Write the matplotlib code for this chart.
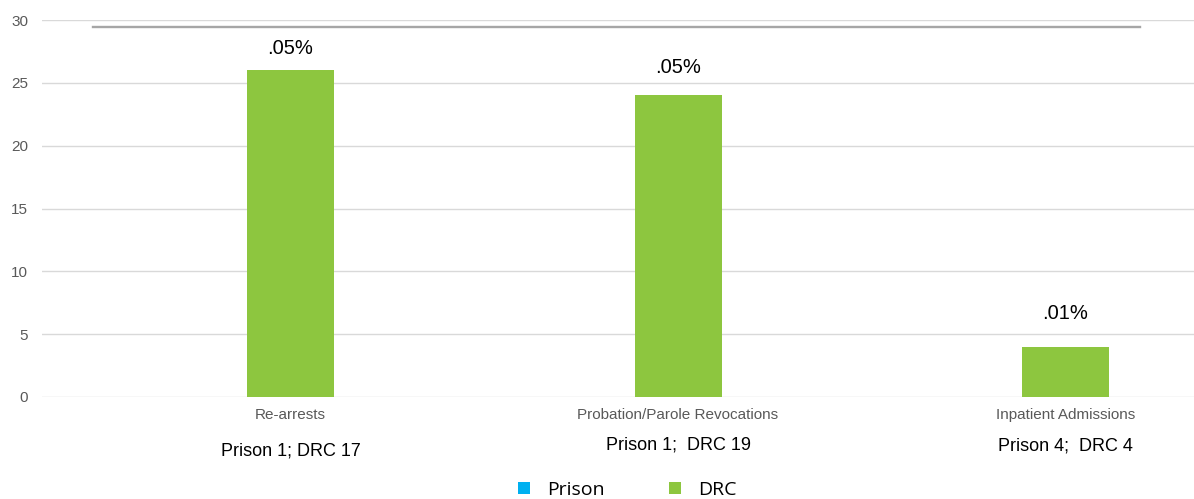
import matplotlib
matplotlib.use("Agg")
import matplotlib.pyplot as plt
from matplotlib.lines import Line2D
from matplotlib.transforms import blended_transform_factory
import numpy as np

# ---- data ----
categories = ["Re-arrests", "Probation/Parole Revocations", "Inpatient Admissions"]
prison_values = [1, 1, 4]
drc_values = [26, 24, 4]
pct_labels = [".05%", ".05%", ".01%"]
count_labels = ["Prison 1; DRC 17", "Prison 1;  DRC 19", "Prison 4;  DRC 4"]
y_ticks = [0, 5, 10, 15, 20, 25, 30]

# ---- styling ----
W, H = 1194, 499
GREEN = "#8DC63F"
BLUE = "#00B0F0"
GRID = "#D9D9D9"
TXT_GRAY = "#595959"
plt.rcParams["font.family"] = ["Liberation Sans", "DejaVu Sans"]

fig = plt.figure(figsize=(W / 100, H / 100), dpi=100)
ax_left, ax_right = 42 / W, 1.0
ax_bottom, ax_top = 1 - 397 / H, 1 - 20 / H
ax = fig.add_axes([ax_left, ax_bottom, ax_right - ax_left, ax_top - ax_bottom])

x = np.arange(len(categories))
step_px = 387.5
bar_w = 87 / step_px
ax.bar(x, prison_values, width=bar_w, color=BLUE, zorder=2)
ax.bar(x, drc_values, width=bar_w, color=GREEN, zorder=3)

ax.set_xlim(-(290.5 - 42) / step_px, (W - 290.5) / step_px)
ax.set_ylim(0, 30)
ax.set_yticks(y_ticks)
ax.set_xticks([])
ax.grid(axis="y", color=GRID, linewidth=1.0, zorder=0)
ax.set_axisbelow(True)
for s in ax.spines.values():
    s.set_visible(False)
ax.tick_params(axis="y", length=0, pad=10, labelsize=11, labelcolor=TXT_GRAY)

# percentage labels above bars (offsets in pixels)
pct_offsets = [22, 28, 33]
for xi, v, lab, off in zip(x, drc_values, pct_labels, pct_offsets):
    ax.annotate(lab, (xi, v), xytext=(0, off), textcoords="offset pixels",
                ha="center", va="center", fontsize=14.5, color="black")

# category labels and count labels
tr = blended_transform_factory(ax.transData, fig.transFigure)
count_y_px = [451, 445, 446]
for xi, cat, cl, cy in zip(x, categories, count_labels, count_y_px):
    ax.text(xi, 1 - 415 / H, cat, transform=tr, ha="center", va="center",
            fontsize=11, color=TXT_GRAY)
    ax.text(xi, 1 - cy / H, cl, transform=tr, ha="center", va="center",
            fontsize=13, color="black")

# decorative gray line near top
fig.add_artist(Line2D([93 / W, 1140 / W], [1 - 26.7 / H, 1 - 26.7 / H],
                      transform=fig.transFigure, color="#A6A6A6", linewidth=1.7))

# legend
handles = [Line2D([], [], marker="s", linestyle="none", markersize=9,
                  markerfacecolor=BLUE, markeredgewidth=0, label="Prison"),
           Line2D([], [], marker="s", linestyle="none", markersize=9,
                  markerfacecolor=GREEN, markeredgewidth=0, label="DRC")]
fig.legend(handles=handles, loc="center", bbox_to_anchor=(627 / W, 1 - 490 / H),
           ncol=2, frameon=False, handlelength=0.7, handletextpad=0.8,
           columnspacing=3.3, prop={"family": "Open Sans", "size": 14})

fig.savefig("out.png", dpi=100)
